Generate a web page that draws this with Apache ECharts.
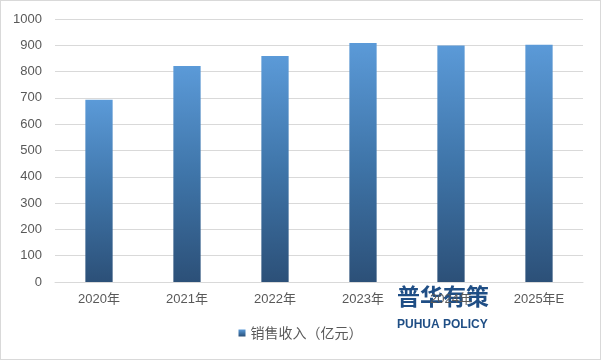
<!DOCTYPE html>
<html><head><meta charset="utf-8">
<script src="https://cdn.jsdelivr.net/npm/echarts@6/dist/echarts.min.js"></script>
<style>html,body{margin:0;padding:0;background:#fff}#c{width:599px;height:358px;border:1px solid #d9d9d9}</style>
</head><body><div id="c"></div>
<script>
const categories = ['2020年','2021年','2022年','2023年','2024年','2025年E'];
const salesValues = [693, 821, 859, 909, 899, 902];
const seriesName = '销售收入（亿元）';
const yTicks = {min: 0, max: 1000, interval: 100};

const chart = echarts.init(document.getElementById('c'), null, {renderer: 'canvas'});
chart.setOption({
  animation: false,
  backgroundColor: '#fff',
  grid: {left: 54, right: 17, top: 18, bottom: 77, containLabel: false},
  xAxis: {
    type: 'category', data: categories,
    axisLine: {lineStyle: {color: '#d9d9d9'}},
    axisTick: {show: false},
    axisLabel: {color: '#595959', fontSize: 13, margin: 11, fontFamily: 'Liberation Sans, Noto Sans CJK SC, sans-serif'}
  },
  yAxis: {
    type: 'value', min: yTicks.min, max: yTicks.max, interval: yTicks.interval,
    axisLine: {show: false}, axisTick: {show: false},
    splitLine: {lineStyle: {color: '#d9d9d9'}},
    axisLabel: {color: '#595959', fontSize: 13, margin: 13, fontFamily: 'Liberation Sans, sans-serif', formatter: v => String(v)}
  },
  legend: {
    bottom: 14, left: 'center', itemWidth: 7, itemHeight: 7, itemGap: 4,
    icon: 'rect',
    textStyle: {color: '#595959', fontSize: 14, fontFamily: 'Noto Sans CJK SC, sans-serif'},
    data: [seriesName]
  },
  series: [{
    name: seriesName, type: 'bar', data: salesValues, barWidth: '31%',
    itemStyle: {color: new echarts.graphic.LinearGradient(0,0,0,1,[
      {offset: 0, color: '#5b9ad8'},
      {offset: 0.5, color: '#3f75a9'},
      {offset: 1, color: '#2c5078'}
    ])}
  }],
  graphic: [
    {type: 'text', left: 396, top: 284, style: {text: '普华有策', fill: '#1f4e85', font: 'bold 23px "Noto Sans CJK SC", sans-serif'}},
    {type: 'text', left: 396, top: 318, style: {text: 'PUHUA POLICY', fill: '#1f4e85', font: 'bold 12px "Liberation Sans", sans-serif'}}
  ]
});
</script></body></html>
